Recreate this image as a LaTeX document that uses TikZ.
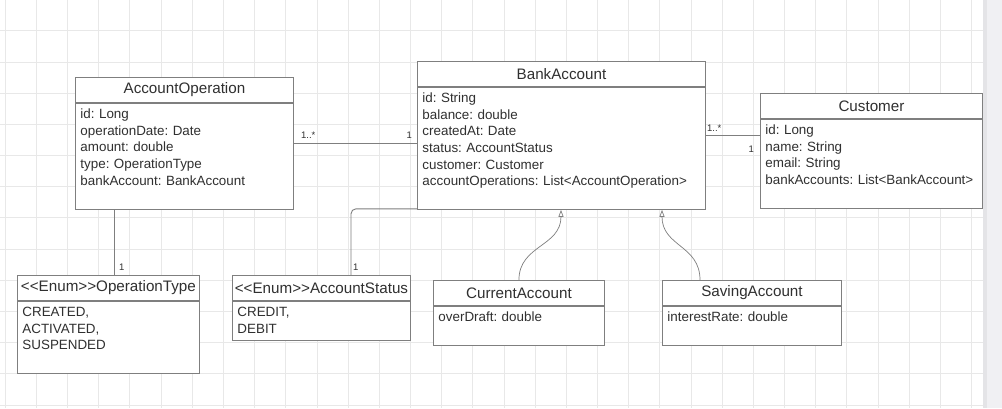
\documentclass[tikz,border=0pt]{standalone}
\usepackage{fontspec}
\setmainfont{Liberation Sans}
\frenchspacing
\usetikzlibrary{arrows.meta, calc}
\definecolor{linegray}{HTML}{7F7F7F}
\definecolor{textgray}{HTML}{303030}
\definecolor{gridgray}{HTML}{E8E8E8}
\definecolor{stripgray}{HTML}{F0F0F3}
\definecolor{shadegray}{HTML}{E4E4E7}
\tikzstyle{classhead} = [rectangle, draw=linegray, fill=white, line width=0.9pt, anchor=north west, minimum height=25pt, inner sep=0pt, align=center, text=textgray, font=\fontsize{15.2}{17}\selectfont]
\tikzstyle{classbody} = [rectangle, draw=linegray, fill=white, line width=0.9pt, anchor=north west, inner xsep=5pt, inner ysep=3pt, text height=12pt, align=left, text=textgray, font=\fontsize{13.4}{16.7}\selectfont]
\tikzstyle{mult} = [inner sep=0pt, text=textgray, font=\fontsize{9.5}{11}\selectfont]
\tikzstyle{link} = [draw=linegray, line width=0.9pt]
\tikzstyle{inherit} = [draw=linegray, line width=0.7pt, -{Triangle[open, length=7pt, width=5pt]}]

\begin{document}
\begin{tikzpicture}[x=1pt, y=-1pt]
	\useasboundingbox (0,0) rectangle (1002,408);
	\fill[white] (0,0) rectangle (983,408);
	\foreach \i in {0,...,31} \draw[gridgray] ({5+31.17*\i},0) -- ({5+31.17*\i},408);
	\foreach \j in {1,...,13} \draw[gridgray] (0,{-0.5+31.17*\j}) -- (983,{-0.5+31.17*\j});
	\fill[stripgray] (983,0) rectangle (1002,408);
	\fill[shadegray] (983,0) rectangle (987,408);

	\node (aoHead) [classhead, text width=218pt] at (75,77) {AccountOperation};
	\node (aoBody) [classbody, text width=208pt, text depth=88pt] at (aoHead.south west) {id: Long\\operationDate: Date\\amount: double\\type: OperationType\\bankAccount: BankAccount};

	\node (baHead) [classhead, text width=288pt] at (417,61) {BankAccount};
	\node (baBody) [classbody, text width=278pt, text depth=104pt] at (baHead.south west) {id: String\\balance: double\\createdAt: Date\\status: AccountStatus\\customer: Customer\\accountOperations: List<AccountOperation>};

	\node (cuHead) [classhead, text width=222pt] at (760,93) {Customer};
	\node (cuBody) [classbody, text width=212pt, text depth=71pt] at (cuHead.south west) {id: Long\\name: String\\email: String\\bankAccounts: List<BankAccount>};

	\node (otHead) [classhead, text width=182pt] at (17,275) {<\kern0pt<Enum>\kern0pt>OperationType};
	\node (otBody) [classbody, text width=172pt, text depth=54pt] at (otHead.south west) {CREATED,\\ACTIVATED,\\SUSPENDED};

	\node (asHead) [classhead, text width=178pt] at (232,275) {<\kern0pt<Enum>\kern0pt>AccountStatus};
	\node (asBody) [classbody, text width=168pt, text depth=21pt] at (asHead.south west) {CREDIT,\\DEBIT};

	\node (curHead) [classhead, text width=171pt] at (433,280) {CurrentAccount};
	\node (curBody) [classbody, text width=161pt, text depth=21pt] at (curHead.south west) {overDraft: double};

	\node (savHead) [classhead, text width=179pt] at (662,280) {SavingAccount};
	\node (savBody) [classbody, text width=169pt, text depth=21pt] at (savHead.south west) {interestRate: double};

	\coordinate (aoLink) at ($(aoBody.north east)+(0,41)$);
	\coordinate (baLinkL) at (aoLink -| baBody.west);
	\coordinate (cuLink) at ($(cuBody.north west)+(0,17)$);
	\coordinate (baLinkR) at (cuLink -| baBody.east);
	\coordinate (otLink) at ($(otHead.north west)+(97,0)$);
	\coordinate (asLink) at ($(asHead.north west)+(119,0)$);
	\coordinate (curTip) at ($(baBody.south west)+(144,0)$);
	\coordinate (savStart) at ($(savHead.north west)+(38,0)$);
	\coordinate (savTip) at ($(baBody.south west)+(245,0)$);

	\draw[link] (aoLink) -- (baLinkL);
	\draw[link] (baLinkR) -- (cuLink);
	\draw[link] (otLink |- aoBody.south) -- (otLink);
	\draw[link, rounded corners=5pt] ($(baBody.south west)+(0,-1)$) -| (asLink);
	\draw[inherit] (curHead.north) .. controls +(0,-35) and +(0,37) .. (curTip);
	\draw[inherit] (savStart) .. controls +(0,-35) and +(0,37) .. (savTip);

	\node (aoMult) [mult, anchor=south west] at ($(aoLink)+(7,-5)$) {1..*};
	\node (baMultL) [mult, anchor=south east] at ($(baLinkL)+(-5,-5)$) {1};
	\node (baMultR) [mult, anchor=south west] at ($(baLinkR)+(1,-4)$) {1..*};
	\node (cuMult) [mult, anchor=south east] at ($(cuLink)+(-6,17)$) {1};
	\node (otMult) [mult, anchor=south west] at ($(otLink)+(5,-4)$) {1};
	\node (asMult) [mult, anchor=south west] at ($(asLink)+(2,-4)$) {1};
\end{tikzpicture}
\end{document}
